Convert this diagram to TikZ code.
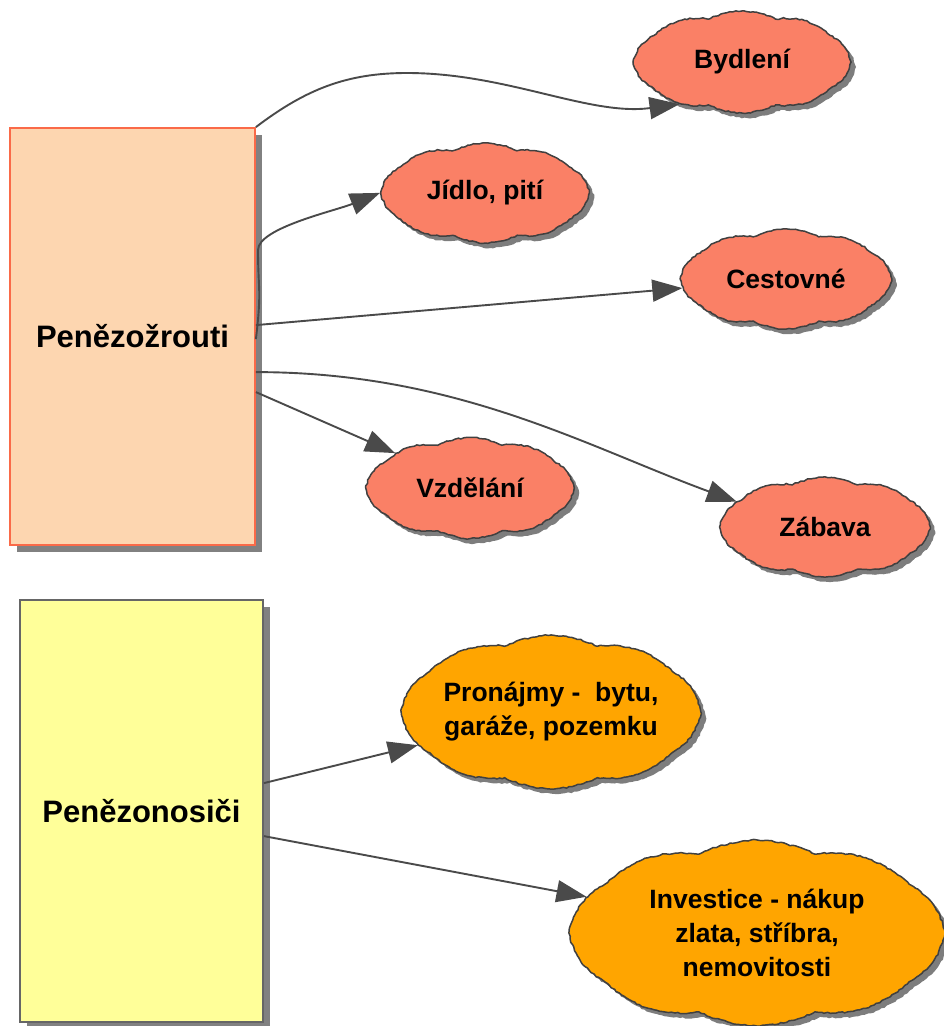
\documentclass[tikz,border=0pt]{standalone}
\usepackage{fontspec}
\setmainfont{Liberation Sans}
\usetikzlibrary{shapes.symbols,shadows,decorations.pathmorphing,arrows.meta,calc}
\definecolor{salmonc}{HTML}{FA8066}
\definecolor{orangec}{HTML}{FFA500}
\definecolor{peachc}{HTML}{FDD6B0}
\definecolor{tomatoc}{HTML}{FA6A48}
\definecolor{yellowc}{HTML}{FFFF99}
\definecolor{linec}{HTML}{4A4A4A}
\begin{document}
\begin{tikzpicture}[x=1pt,y=-1pt,
  box/.style={draw, line width=1.8pt, inner sep=0pt,
    font=\fontsize{31}{37}\selectfont\bfseries,
    drop shadow={shadow xshift=7pt, shadow yshift=-7pt, fill=black!55, opacity=0.9}},
  cl/.style={cloud, cloud puffs=10, cloud puff arc=55, cloud ignores aspect,
    draw=black!75, line width=1.5pt, inner sep=0pt,
    font=\fontsize{26.5}{34}\selectfont\bfseries, align=center,
    decorate, decoration={random steps, segment length=3pt, amplitude=0.7pt},
    drop shadow={shadow xshift=5pt, shadow yshift=-5pt, fill=black!60, opacity=0.85}},
  red/.style={cl, fill=salmonc},
  org/.style={cl, fill=orangec},
  arr/.style={draw=linec, line width=1.9pt, -{Triangle[length=30pt,width=22pt]}}
]
\useasboundingbox (0,0) rectangle (944,1026);

% boxes
\node[box, draw=tomatoc, fill=peachc, minimum width=245pt, minimum height=417pt]
  (p1) at (132.5,336.5) {Penězožrouti};
\node[box, draw=black!60, fill=yellowc, minimum width=243pt, minimum height=422pt]
  (p2) at (141.5,811) {Penězonosiči};

% clouds
\node[red, minimum width=214pt, minimum height=102pt] (by) at (742,62) {Bydlení};
\node[red, minimum width=205pt, minimum height=100pt] (jd) at (485,193) {Jídlo, pití};
\node[red, minimum width=208pt, minimum height=100pt] (ce) at (786,279) {Cestovné};
\node[red, minimum width=205pt, minimum height=101pt] (vz) at (470,488) {Vzdělání};
\node[red, minimum width=207pt, minimum height=100pt] (za) at (825,527) {Zábava};
\node[org, minimum width=293pt, minimum height=154pt] (pr) at (551,712) {Pronájmy -\ \ bytu,\\garáže, pozemku};
\node[org, minimum width=370pt, minimum height=186pt] (in) at (757,933) {Investice - nákup\\zlata, stříbra,\\nemovitosti};

% start points on the boxes
\coordinate (s2) at ($(p1.north east)+(0,212)$);
\coordinate (s3) at ($(p1.north east)+(0,198)$);
\coordinate (s4) at ($(p1.north east)+(0,245)$);
\coordinate (s5) at ($(p1.north east)+(0,265)$);
\coordinate (s6) at ($(p2.north east)+(0,184)$);
\coordinate (s7) at ($(p2.north east)+(0,237)$);

% connectors
\draw[arr] (p1.north east) .. controls +(50,-38) and +(-60,0) .. (407,73)
  .. controls +(100,0) and +(-90,12) .. (by.214);
\draw[arr] (s2) .. controls +(6,-50) and +(0,40) .. (258,250)
  .. controls +(0,-22) and +(-45,18) .. (jd.180);
\draw[arr] (s3) -- (ce.185);
\draw[arr] (s4) .. controls +(200,0) and +(-150,-55) .. (za.164);
\draw[arr] (s5) -- (vz.155);
\draw[arr] (s6) -- (pr.194);
\draw[arr] (s7) -- (in.168);
\end{tikzpicture}
\end{document}
